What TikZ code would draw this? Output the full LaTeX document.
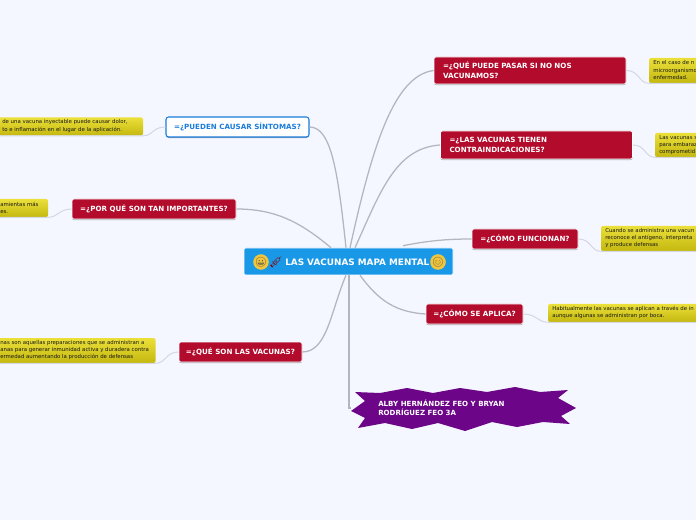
\documentclass[tikz,border=0pt]{standalone}
\usepackage{fontspec}
\setmainfont{DejaVu Sans}
\newfontfamily\emojifont{Noto Emoji}
\usetikzlibrary{shadows,calc}
\definecolor{bgc}{HTML}{F4F7FF}
\definecolor{rootc}{HTML}{1A98E8}
\definecolor{redc}{HTML}{B30B2C}
\definecolor{bluec}{HTML}{1A7CDC}
\definecolor{purp}{HTML}{6C0587}
\definecolor{yeltop}{HTML}{EBE03A}
\definecolor{yelbot}{HTML}{C4B80F}
\definecolor{limb}{HTML}{B4B6BE}
\definecolor{twig}{HTML}{D4D7E2}
\definecolor{facec}{HTML}{F2C63C}
\tikzset{
  x=0.75pt,y=-0.75pt,
  size/.style 2 args={minimum width=#1*0.75pt,minimum height=#2*0.75pt},
  softshadow/.style={drop shadow={shadow xshift=0pt,shadow yshift=-0.8pt,fill=black,opacity=0.3}},
  rootbox/.style={fill=rootc,draw=white,line width=0.4pt,rounded corners=1.5pt,text=white,inner sep=0pt},
  redbox/.style={fill=redc,draw=white,line width=0.5pt,rounded corners=1.5pt,text=white,inner sep=0pt,softshadow,font=\bfseries\fontsize{5.35}{7.3}\selectfont},
  whitebox/.style={fill=white,draw=bluec,line width=0.8pt,rounded corners=2pt,text=bluec,inner sep=0pt,softshadow,font=\bfseries\fontsize{5.35}{7.3}\selectfont},
  twolines/.style={align=left,text width=174*0.75pt,inner xsep=9*0.75pt},
  yelbox/.style={top color=yeltop,bottom color=yelbot,rounded corners=1.5pt,inner sep=0pt},
  yeltext/.style={anchor=west,align=left,inner sep=0pt,text=black!90,font=\fontsize{4.05}{5.3}\selectfont},
  limbline/.style={draw=limb,line width=0.95pt},
  twigline/.style={draw=twig,line width=0.75pt},
  face/.style={circle,fill=facec,inner sep=0pt,minimum size=8.25pt,text=black!70,font=\emojifont\fontsize{7.2}{8}\selectfont},
}
\begin{document}
\begin{tikzpicture}
\useasboundingbox (0,0) rectangle (696,520);
\fill[bgc] (0,0) rectangle (696,520);
\begin{scope}
\clip (0,0) rectangle (696,520);

% root
\node[rootbox,size={209}{27}] (root) at (348.5,261.5) {};
\node[anchor=west,inner sep=0pt,text=white,font=\bfseries\fontsize{6.65}{8}\selectfont] (rt) at (285,262) {LAS VACUNAS MAPA MENTAL};
\node[face] (e1) at (261,262) {😀};
\node[inner sep=0pt,text=red!55!black,font=\emojifont\fontsize{9}{9}\selectfont] (e2) at (276,262) {💉};
\node[face] (e3) at (438,262) {😊};

% root attachment points
\coordinate (ra) at ($(root.north)+(-2.5,0)$);
\coordinate (rb) at ($(root.north)+(-17.5,0)$);
\coordinate (rc) at ($(root.north)+(1.5,0)$);
\coordinate (rd) at ($(root.north)+(6.5,0)$);
\coordinate (re) at ($(root.north)+(54.5,-2)$);
\coordinate (rf) at ($(root.south)+(11.5,0)$);
\coordinate (rg) at ($(root.south)+(-2.5,0)$);
\coordinate (rh) at ($(root.south)+(0.5,0)$);

% yellow notes
\node[yelbox,size={170}{18}] (y1) at (58,126.5) {};
\node[yelbox,size={78}{18}] (y2) at (9,208) {};
\node[yelbox,size={190}{25}] (y3) at (60.5,350.5) {};
\node[yelbox,size={100}{25}] (y4) at (699,70.5) {};
\node[yelbox,size={100}{24}] (y5) at (705,145) {};
\node[yelbox,size={200}{25}] (y6) at (701,238.5) {};
\node[yelbox,size={250}{18}] (y7) at (673,313) {};

% star
\coordinate (st) at (351,408);
\draw[fill=purp,draw=none] (355,392) -- (380,393) -- (407,388) -- (433,393) -- (460,388) -- (487,392) -- (515,387) -- (540,392) -- (568,390) -- (558,398) -- (576,408) -- (561,416) -- (570,424) -- (543,422) -- (517,427) -- (492,422) -- (465,431) -- (438,423) -- (412,429) -- (385,423) -- (358,428) -- (365,418) -- (351,411) -- (365,401) -- cycle;
\node[anchor=west,align=left,inner sep=0pt,text=white,font=\bfseries\fontsize{5.3}{6.9}\selectfont] (sn) at (378,407.5) {ALBY HERNÁNDEZ FEO Y BRYAN\\RODRÍGUEZ FEO 3A};

% note texts (as far as the page shows them)
\node[yeltext] (t1) at (2,126) {de una vacuna inyectable puede causar dolor,\\to e inflamación en el lugar de la aplicación.};
\node[yeltext] (t2) at (0,207.5) {amientas más\\es.};
\node[yeltext] (t3) at (0,350) {nas son aquellas preparaciones que se administran a\\anas para generar inmunidad activa y duradera contra\\ermedad aumentando la producción de defensas};
\node[yeltext] (t4) at (653,70) {En el caso de n\\microorganismo\\enfermedad.};
\node[yeltext] (t5) at (659,145) {Las vacunas s\\para embaraz\\comprometid};
\node[yeltext] (t6) at (605,238) {Cuando se administra una vacun\\reconoce el antígeno, interpreta\\y produce defensas};
\node[yeltext] (t7) at (552,312.5) {Habitualmente las vacunas se aplican a través de in\\aunque algunas se administran por boca.};

% branches
\node[whitebox,size={143}{20}] (n1) at (237.5,127) {=¿PUEDEN CAUSAR SÍNTOMAS?};
\node[redbox,size={164}{20}] (n2) at (154,209) {=¿POR QUÉ SON TAN IMPORTANTES?};
\node[redbox,size={123}{20}] (n3) at (240.5,352) {=¿QUÉ SON LAS VACUNAS?};
\node[redbox,twolines,size={192}{27}] (n4) at (530,70.5) {=¿QUÉ PUEDE PASAR SI NO NOS\\VACUNAMOS?};
\node[redbox,twolines,size={191}{28}] (n5) at (536.5,145) {=¿LAS VACUNAS TIENEN\\CONTRAINDICACIONES?};
\node[redbox,size={106}{20}] (n6) at (525,239) {=¿CÓMO FUNCIONAN?};
\node[redbox,size={97}{20}] (n7) at (474.5,314) {=¿CÓMO SE APLICA?};

% limbs
\draw[limbline] (n1.east) .. controls +(22,0) and +(-8,-75) .. (ra);
\draw[limbline] (n2.east) .. controls +(40,0) and +(-30,-25) .. (rb);
\draw[limbline] (n3.east) .. controls +(25,0) and +(-15,35) .. (rg);
\draw[limbline] (n4.west) .. controls +(-40,5) and +(22,-100) .. (rc);
\draw[limbline] (n5.west) .. controls +(-45,3) and +(25,-55) .. (rd);
\draw[limbline] (n6.west) .. controls +(-25,0) and +(25,-5) .. (re);
\draw[limbline] (n7.west) .. controls +(-35,-2) and +(15,20) .. (rf);
\draw[limbline] (rh) |- (st);

% twigs
\draw[twigline] (n1.west) .. controls +(-13,0) and +(10,0) .. (y1.south east) -- (y1.south west);
\draw[twigline] (n2.west) .. controls +(-13,0) and +(10,0) .. (y2.south east) -- (y2.south west);
\draw[twigline] (n3.west) .. controls +(-13,0) and +(10,0) .. (y3.south east) -- (y3.south west);
\draw[twigline] (n4.east) .. controls +(13,0) and +(-10,0) .. (y4.south west) -- (y4.south east);
\draw[twigline] (n5.east) .. controls +(13,0) and +(-10,0) .. (y5.south west) -- (y5.south east);
\draw[twigline] (n6.east) .. controls +(13,0) and +(-10,0) .. (y6.south west) -- (y6.south east);
\draw[twigline] (n7.east) .. controls +(13,0) and +(-10,0) .. (y7.south west) -- (y7.south east);
\end{scope}
\end{tikzpicture}
\end{document}
